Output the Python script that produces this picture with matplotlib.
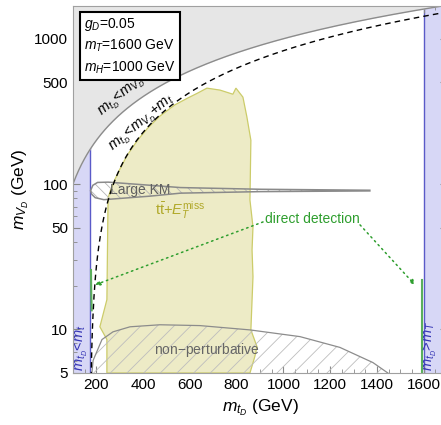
import numpy as np
import matplotlib.pyplot as plt
from matplotlib.patches import Polygon
from matplotlib.ticker import FixedLocator, NullFormatter, FixedFormatter, MultipleLocator

plt.rcParams['font.family'] = 'Liberation Sans'
plt.rcParams['mathtext.fontset'] = 'custom'
plt.rcParams['mathtext.rm'] = 'Liberation Sans'
plt.rcParams['mathtext.it'] = 'Liberation Sans:italic'
plt.rcParams['mathtext.bf'] = 'Liberation Sans:bold'
plt.rcParams['hatch.linewidth'] = 0.6

# masses (GeV)
m_top = 173
m_T = 1600

# tt+MET exclusion
yellow_x = [245, 245, 215, 245, 250, 262, 280, 302, 332, 376, 420, 470, 535,
            590, 630, 673, 729, 784, 797, 827, 844, 861, 857, 870, 866, 870,
            861, 887, 878, 857]
yellow_y = [5.0, 8.5, 10.4, 16.0, 80, 92, 108, 128, 158, 200, 243, 292, 350,
            390, 420, 457, 443, 415, 457, 396, 289, 200, 77.6, 50.6, 35.2,
            23.0, 9.9, 7.6, 6.5, 5.0]

# non-perturbative boundary
nonpert_x = [181, 186, 224, 271, 344, 472, 643, 857, 1071, 1242, 1383, 1447]
nonpert_y = [5.0, 6.1, 8.5, 9.6, 10.4, 10.74, 10.6, 9.9, 8.9, 7.5, 5.9, 5.0]

# large kinetic mixing band
km_x = [175, 185, 205, 250, 430, 560, 900, 1370, 1370, 900, 560, 430, 232, 195, 180]
km_y = [90, 98, 102.5, 103, 98, 94.5, 92, 90.6, 89.6, 88.6, 86.5, 82.5, 78, 80.5, 85]

# direct detection limits
dd_left_x = [177, 178, 180]
dd_left_y = [25.6, 18, 13.5]
dd_right_x = [1593, 1593]
dd_right_y = [21.9, 5.0]
dd_text_xy = (1122, 57.5)
dd_arrow_left = ((913, 54.8), (194, 20.2))
dd_arrow_right = ((1328, 52.3), (1563, 20.2))

y_major = [5, 10, 50, 100, 500, 1000]
y_minor = [6, 7, 8, 9, 20, 30, 40, 60, 70, 80, 90, 200, 300, 400, 600, 700, 800, 900]

xlo, xhi = 100, 1700
ylo, yhi = 5, 1680

fig = plt.figure(figsize=(4.41, 4.25), dpi=100)
ax = fig.add_axes([73/441, 52/425, 374/441, 367/425])

# blue bands
blue_fc = '#d7d7f6'
blue_ec = '#5a5ac8'
ax.axvspan(xlo, m_top, color=blue_fc, lw=0, zorder=1)
ax.axvspan(m_T, xhi, color=blue_fc, lw=0, zorder=1)
ax.axvline(m_top, color=blue_ec, lw=1, zorder=1.5)
ax.axvline(m_T, color=blue_ec, lw=1, zorder=1.5)

# m_tD < m_VD region
xs = np.linspace(xlo, xhi, 400)
ax.fill_between(xs, xs, yhi * 2, color='#e6e6e6', lw=0, zorder=2)
ax.plot(xs, xs, color='#8c8c8c', lw=1, zorder=5)

# m_tD < m_VD + m_t
xd = np.linspace(m_top + 4, xhi, 600)
ax.plot(xd, xd - m_top, color='black', lw=1, ls=(0, (4, 3)), zorder=6)

# yellow region
ax.add_patch(Polygon(np.column_stack([yellow_x, yellow_y]), closed=True,
                     fc='#edebc6', ec='#cccc6a', lw=0.9, zorder=3))

# non-perturbative
np_px = np.column_stack([nonpert_x, nonpert_y])
ax.add_patch(Polygon(np_px, closed=True, fc='none', ec='#bdbdbd', lw=0,
                     hatch='//', zorder=4))
ax.plot(nonpert_x, nonpert_y, color='#8c8c8c', lw=0.9, zorder=4.5)

# large KM
km_pts = np.column_stack([km_x, km_y])
ax.add_patch(Polygon(km_pts, closed=True, fc='none', ec='#b5b5b5', lw=0,
                     hatch='\\\\\\', zorder=4))
ax.add_patch(Polygon(km_pts, closed=True, fc='none', ec='#8a8a8a', lw=1.1, zorder=4.5))

# direct detection
green = '#2e9e2e'
ax.plot(dd_left_x, dd_left_y, color='#5cb05c', lw=1.5, zorder=5)
ax.plot(dd_right_x, dd_right_y, color='#5cb05c', lw=1.5, zorder=5)
for start, end in [dd_arrow_left, dd_arrow_right]:
    ax.annotate('', xy=end, xytext=start,
                arrowprops=dict(arrowstyle='-|>', ls=(0, (1, 2.5)), color=green,
                                lw=1.1, mutation_scale=7, shrinkA=0, shrinkB=0),
                zorder=7)
ax.text(*dd_text_xy, 'direct detection', color=green, fontsize=10,
        ha='center', va='center', zorder=8)

# labels
ax.text(308, 398, r'$m_{t_D}$<$m_{V_D}$', rotation=40, fontsize=10.5,
        ha='center', va='center', rotation_mode='anchor', zorder=8)
ax.text(395, 262, r'$m_{t_D}$<$m_{V_D}$+$m_t$', rotation=40, fontsize=10.5,
        ha='center', va='center', rotation_mode='anchor', zorder=8)
ax.text(387, 91, 'Large KM', color='#606060', fontsize=10, ha='center',
        va='center', zorder=8)
ax.text(560, 66, r'$\mathrm{t\bar{t}}$+$E_T^{\mathrm{miss}}$', color='#b0a828',
        fontsize=10.5, ha='center', va='center', zorder=8)
ax.text(673, 7.2, 'non$-$perturbative', color='#666666', fontsize=10,
        ha='center', va='center', zorder=8)
ax.text(136, 5.2, r'$m_{t_D}$<$m_t$', color='#3535b5', fontsize=10.5, rotation=90,
        ha='center', va='bottom', zorder=8)
ax.text(1628, 5.2, r'$m_{t_D}$>$m_T$', color='#3535b5', fontsize=10.5, rotation=90,
        ha='center', va='bottom', zorder=8)

ax.text(0.03, 0.972, r'$g_D$=0.05' + '\n' + r'$m_T$=1600 GeV' + '\n' + r'$m_H$=1000 GeV',
        transform=ax.transAxes, ha='left', va='top', fontsize=10, linespacing=1.4,
        zorder=9, bbox=dict(boxstyle='square,pad=0.3', fc='white', ec='black', lw=1.5))

ax.set_xlim(xlo, xhi)
ax.set_yscale('log')
ax.set_ylim(ylo, yhi)
ax.xaxis.set_major_locator(FixedLocator([200, 400, 600, 800, 1000, 1200, 1400, 1600]))
ax.xaxis.set_minor_locator(MultipleLocator(50))
ax.yaxis.set_major_locator(FixedLocator(y_major))
ax.yaxis.set_major_formatter(FixedFormatter([str(v) for v in y_major]))
ax.yaxis.set_minor_locator(FixedLocator(y_minor))
ax.yaxis.set_minor_formatter(NullFormatter())

ax.tick_params(which='both', direction='in', top=True, right=True, color='#888888',
               labelsize=11)
ax.tick_params(which='major', length=5)
ax.tick_params(which='minor', length=3)
for s in ax.spines.values():
    s.set_color('#a0a0a0')
    s.set_zorder(10)

ax.set_xlabel(r'$m_{t_D}$ (GeV)', fontsize=12.5, labelpad=4)
ax.set_ylabel(r'$m_{V_D}$ (GeV)', fontsize=12.5, labelpad=2)

fig.savefig('out.png', dpi=100)
